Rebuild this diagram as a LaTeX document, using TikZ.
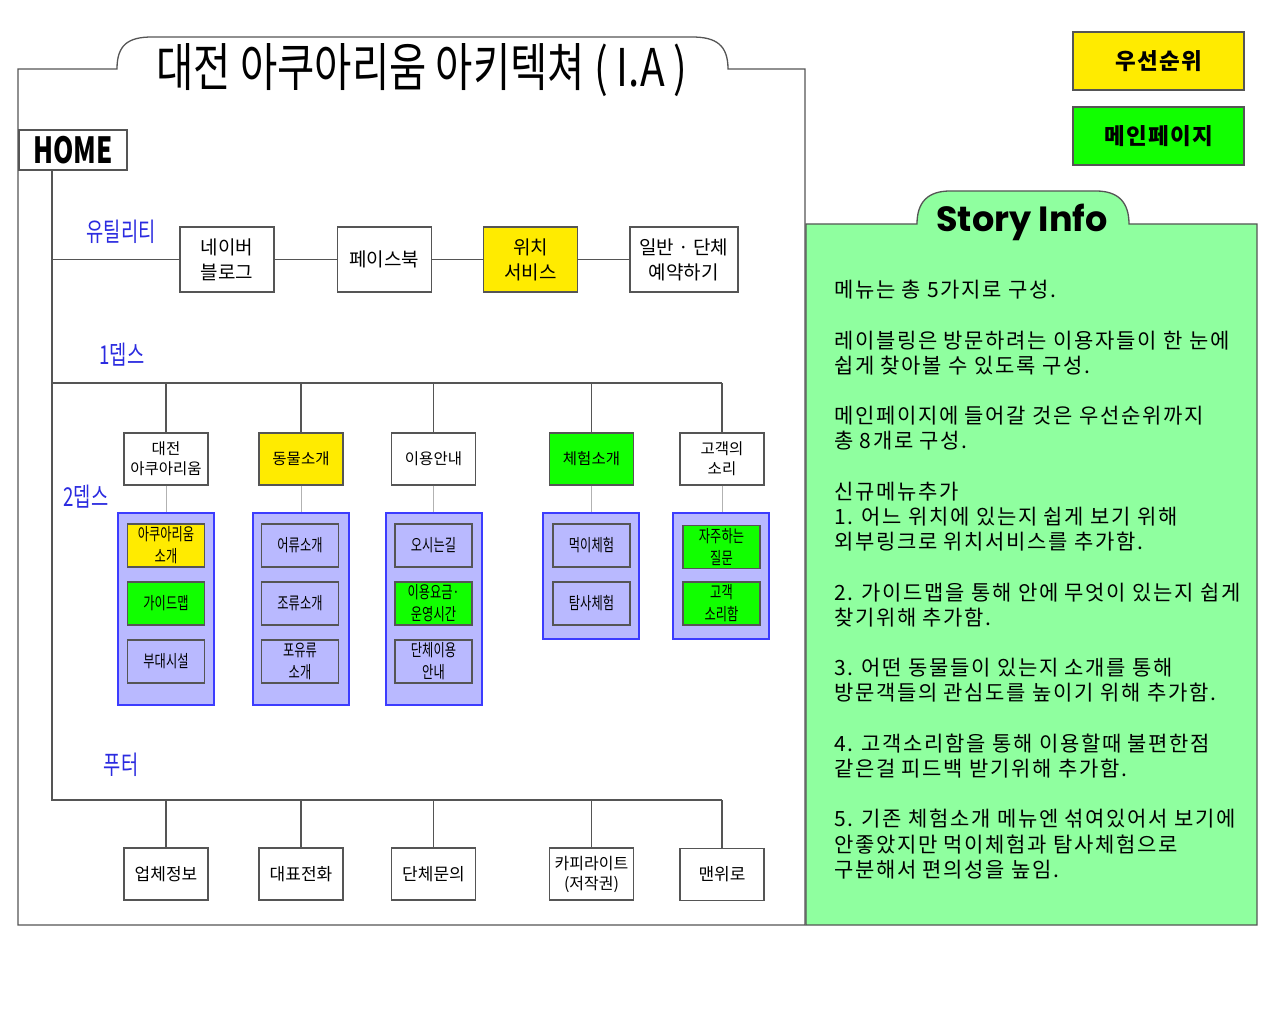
\documentclass[tikz,border=0pt]{standalone}
\usepackage{fontspec}
\setmainfont{Noto Sans CJK KR}
\newfontfamily\krnarrow[FakeStretch=0.72]{Noto Sans CJK KR}
\newfontfamily\krtitle[FakeStretch=0.78]{Noto Sans CJK KR}
\newfontfamily\krspaced[LetterSpace=8]{Noto Sans CJK KR}
\newfontfamily\krlegend[LetterSpace=6]{Noto Sans CJK KR}
\newfontfamily\storyfont{Poppins}
\usetikzlibrary{calc,positioning}

\definecolor{wirec}{HTML}{555555}
\definecolor{prio}{HTML}{FFEB00}
\definecolor{mainpg}{HTML}{11FF00}
\definecolor{subfill}{HTML}{B9B9FF}
\definecolor{subedge}{HTML}{3C3CFF}
\definecolor{storybg}{HTML}{8FFF9F}
\definecolor{lblblue}{HTML}{2B2BE0}

\begin{document}
\begin{tikzpicture}[x=1pt,y=-1pt,
    wire/.style={draw=wirec,line width=1.3pt},
    thinwire/.style={draw=gray!60,line width=0.8pt},
    menubox/.style={draw=wirec,line width=1.3pt,fill=white,align=center,inner sep=0pt},
    utilbox/.style={menubox,minimum width=94pt,minimum height=65pt,font=\fontsize{19}{25}\selectfont},
    depbox/.style={menubox,minimum width=84pt,minimum height=52pt,font=\fontsize{15.5}{20}\selectfont},
    footbox/.style={menubox,minimum width=84pt,minimum height=52pt,font=\fontsize{17}{21}\selectfont},
    panel/.style={draw=subedge,line width=1.2pt,fill=subfill,minimum width=96pt},
    subbox/.style={menubox,fill=subfill,minimum width=77pt,minimum height=43pt,font=\krnarrow\fontsize{17}{22}\selectfont},
    lvl/.style={text=lblblue,font=\krnarrow\fontsize{26}{30}\selectfont},
    legend/.style={draw=wirec,line width=1.3pt,minimum width=171pt,minimum height=58pt,font=\krlegend\bfseries\fontsize{22.5}{24}\selectfont}]
    \useasboundingbox (0,0) rectangle (1280,1024);

    % frames
    \draw[wire,fill=white] (18,69) -- (117,69) .. controls (117,45) and (128,37) .. (152,37) -- (692,37)
        .. controls (716,37) and (728,45) .. (728,69) -- (805,69) -- (805,925) -- (18,925) -- cycle;
    \draw[wire,fill=storybg] (806,224) -- (917,224) .. controls (917,202) and (928,191) .. (950,191) -- (1096,191)
        .. controls (1118,191) and (1129,202) .. (1129,224) -- (1257,224) -- (1257,925) -- (806,925) -- cycle;

    \node[font=\krtitle\fontsize{52}{56}\selectfont] (title) at (422,70) {대전 아쿠아리움 아키텍쳐 ( I.A )};
    \node[font=\storyfont\bfseries\fontsize{35}{38}\selectfont] (storytitle) at (1022,222) {Story Info};

    \node[legend,fill=prio] (prio) at (1158.5,61) {우선순위};
    \node[legend,fill=mainpg] (mainpage) at (1158.5,136) {메인페이지};

    \node[menubox,minimum width=108pt,minimum height=40pt,font=\krnarrow\bfseries\fontsize{36}{40}\selectfont] (home) at (73,150) {HOME};
    \coordinate (trunk) at (52,800);

    % utility
    \node[lvl] (utillbl) at (121,232) {유틸리티};
    \node[utilbox] (blog) at (227,259.5) {네이버\\블로그};
    \node[utilbox,right=62pt of blog] (facebook) {페이스북};
    \node[utilbox,fill=prio,right=51pt of facebook] (location) {위치\\서비스};
    \node[utilbox,minimum width=108pt,right=51pt of location] (reserve) {일반 · 단체\\예약하기};

    % 1 depth
    \node[lvl] (dep1lbl) at (122,355) {1뎁스};
    \node[depbox] (aqua) at (166,459) {대전\\아쿠아리움};
    \node[depbox,fill=prio] (animal) at (301,459) {동물소개};
    \node[depbox] (guide) at (433.5,459) {이용안내};
    \node[depbox,fill=mainpg] (program) at (591.5,459) {체험소개};
    \node[depbox] (voice) at (722,459) {고객의\\소리};

    % 2 depth
    \node[lvl] (dep2lbl) at (86,497) {2뎁스};
    \node[panel,minimum height=192pt] (panelA) at (166,609) {};
    \node[panel,minimum height=192pt] (panelB) at (301,609) {};
    \node[panel,minimum height=192pt] (panelC) at (434,609) {};
    \node[panel,minimum height=126pt] (panelD) at (591,576) {};
    \node[panel,minimum height=126pt] (panelE) at (721,576) {};

    \node[subbox,fill=prio] (aquaintro) at (166,545.5) {아쿠아리움\\소개};
    \node[subbox,fill=mainpg] (guidemap) at (166,603.5) {가이드맵};
    \node[subbox] (facility) at (166,661.5) {부대시설};
    \node[subbox] (fish) at (300,545.5) {어류소개};
    \node[subbox] (bird) at (300,603.5) {조류소개};
    \node[subbox] (mammal) at (300,661.5) {포유류\\소개};
    \node[subbox] (route) at (433.5,545.5) {오시는길};
    \node[subbox,fill=mainpg] (fee) at (433.5,603.5) {이용요금·\\운영시간};
    \node[subbox] (group) at (433.5,661.5) {단체이용\\안내};
    \node[subbox] (feeding) at (591.5,545.5) {먹이체험};
    \node[subbox] (explore) at (591.5,603.5) {탐사체험};
    \node[subbox,fill=mainpg] (faq) at (721.5,547) {자주하는\\질문};
    \node[subbox,fill=mainpg] (vbox) at (721.5,603.5) {고객\\소리함};

    % footer
    \node[lvl] (footlbl) at (121,765) {푸터};
    \node[footbox] (company) at (166,874) {업체정보};
    \node[footbox] (phone) at (301,874) {대표전화};
    \node[footbox] (ask) at (433.5,874) {단체문의};
    \node[footbox,font=\fontsize{16}{20}\selectfont] (copy) at (591.5,874) {카피라이트\\(저작권)};
    \node[footbox] (top) at (722,874.5) {맨위로};

    % connectors
    \draw[wire] (home.south -| trunk) -- (trunk) -- (trunk -| top.north);
    \draw[wire] (blog.west -| trunk) -- (blog.west);
    \draw[wire] (blog.east) -- (facebook.west);
    \draw[wire] (facebook.east) -- (location.west);
    \draw[wire] (location.east) -- (reserve.west);

    \coordinate (bus1) at (52,383);
    \draw[wire] (bus1) -- (bus1 -| voice.north);
    \draw[wire] (bus1 -| aqua.north) -- (aqua.north);
    \draw[wire] (bus1 -| animal.north) -- (animal.north);
    \draw[wire] (bus1 -| guide.north) -- (guide.north);
    \draw[wire] (bus1 -| program.north) -- (program.north);
    \draw[wire] (bus1 -| voice.north) -- (voice.north);

    \draw[thinwire] (aqua.south) -- (panelA.north);
    \draw[thinwire] (animal.south) -- (animal.south |- panelB.north);
    \draw[thinwire] (guide.south) -- (guide.south |- panelC.north);
    \draw[thinwire] (program.south) -- (program.south |- panelD.north);
    \draw[thinwire] (voice.south) -- (voice.south |- panelE.north);

    \draw[wire] (trunk -| company.north) -- (company.north);
    \draw[wire] (trunk -| phone.north) -- (phone.north);
    \draw[wire] (trunk -| ask.north) -- (ask.north);
    \draw[wire] (trunk -| copy.north) -- (copy.north);
    \draw[wire] (trunk -| top.north) -- (top.north);

    % story text
    \node[anchor=north west,align=left,inner sep=0pt,font=\krspaced\fontsize{21}{25.2}\selectfont] (story) at (834,280) {%
        메뉴는 총 5가지로 구성.\\[25.2pt]
        레이블링은 방문하려는 이용자들이 한 눈에\\
        쉽게 찾아볼 수 있도록 구성.\\[25.2pt]
        메인페이지에 들어갈 것은 우선순위까지\\
        총 8개로 구성.\\[25.2pt]
        신규메뉴추가\\
        1. 어느 위치에 있는지 쉽게 보기 위해\\
        외부링크로 위치서비스를 추가함.\\[25.2pt]
        2. 가이드맵을 통해 안에 무엇이 있는지 쉽게\\
        찾기위해 추가함.\\[25.2pt]
        3. 어떤 동물들이 있는지 소개를 통해\\
        방문객들의 관심도를 높이기 위해 추가함.\\[25.2pt]
        4. 고객소리함을 통해 이용할때 불편한점\\
        같은걸 피드백 받기위해 추가함.\\[25.2pt]
        5. 기존 체험소개 메뉴엔 섞여있어서 보기에\\
        안좋았지만 먹이체험과 탐사체험으로\\
        구분해서 편의성을 높임.};
\end{tikzpicture}
\end{document}
